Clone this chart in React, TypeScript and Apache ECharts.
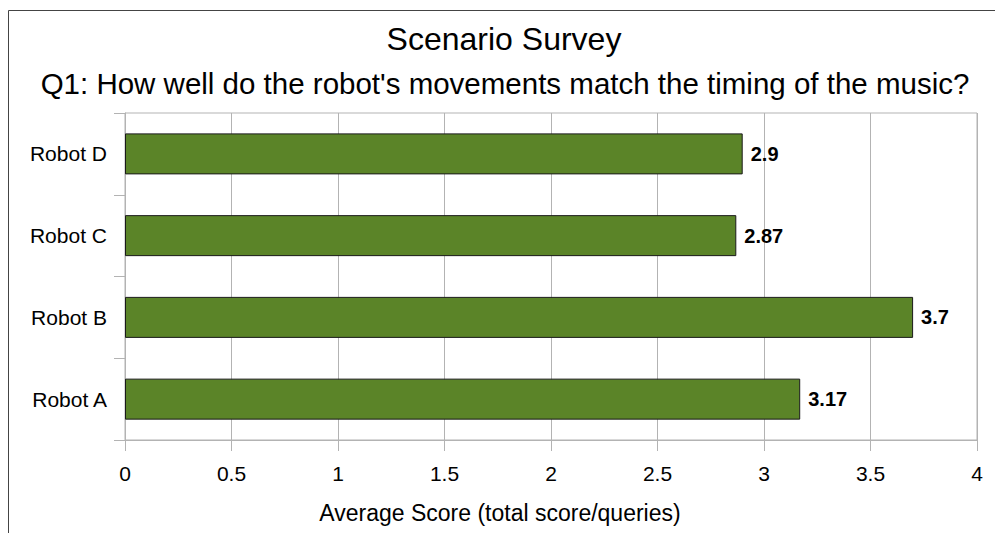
import React, { useEffect, useRef } from "react";
import * as echarts from "echarts";

const categories = ["Robot A", "Robot B", "Robot C", "Robot D"];
const scores = [3.17, 3.7, 2.87, 2.9];
const titleText = "Scenario Survey";
const subtitleText = "Q1: How well do the robot's movements match the timing of the music?";
const xAxisName = "Average Score (total score/queries)";

const FONT = "'Liberation Sans', Arial, sans-serif";

export default function App() {
  const ref = useRef<HTMLDivElement>(null);
  useEffect(() => {
    if (!ref.current) return;
    const chart = echarts.init(ref.current, null, { renderer: "svg" });
    chart.setOption({
      animation: false,
      backgroundColor: "#ffffff",
      textStyle: { fontFamily: FONT },
      grid: {
        left: 125,
        right: 18,
        top: 113,
        bottom: 93,
        show: true,
        borderColor: "#b3b3b3",
        borderWidth: 1,
        backgroundColor: "transparent",
      },
      graphic: [
        {
          type: "rect",
          shape: { x: 8.5, y: 10.5, width: 1100, height: 600 },
          style: { fill: "none", stroke: "#444444", lineWidth: 1 },
          silent: true,
          z: -1,
        },
        {
          type: "text",
          x: 504,
          y: 39,
          style: {
            text: titleText,
            font: `32px ${FONT}`,
            fill: "#000000",
            textAlign: "center",
            textVerticalAlign: "middle",
          },
        },
        {
          type: "text",
          x: 505,
          y: 83,
          style: {
            text: subtitleText,
            font: `29.5px ${FONT}`,
            fill: "#000000",
            textAlign: "center",
            textVerticalAlign: "middle",
          },
        },
        {
          type: "text",
          x: 500,
          y: 513,
          style: {
            text: xAxisName,
            font: `23px ${FONT}`,
            fill: "#000000",
            textAlign: "center",
            textVerticalAlign: "middle",
          },
        },
      ],
      xAxis: {
        type: "value",
        min: 0,
        max: 4,
        interval: 0.5,
        axisLine: { show: true, lineStyle: { color: "#b3b3b3" } },
        axisTick: { show: true, length: 11, lineStyle: { color: "#b3b3b3" } },
        axisLabel: { color: "#000000", fontSize: 21, margin: 23, fontFamily: FONT },
        splitLine: { show: true, lineStyle: { color: "#b3b3b3" } },
      },
      yAxis: {
        type: "category",
        data: categories,
        axisLine: { show: true, lineStyle: { color: "#b3b3b3" } },
        axisTick: { show: true, length: 11, lineStyle: { color: "#b3b3b3" } },
        axisLabel: { color: "#000000", fontSize: 21, margin: 18, fontFamily: FONT },
        splitLine: { show: false },
      },
      series: [
        {
          type: "bar",
          data: scores,
          barWidth: 41,
          itemStyle: { color: "#5b8428", borderColor: "#1a1a1a", borderWidth: 1 },
          label: {
            show: true,
            position: "right",
            distance: 8,
            color: "#000000",
            fontWeight: "bold",
            fontSize: 20,
            fontFamily: FONT,
          },
        },
      ],
    });
    return () => chart.dispose();
  }, []);
  return (
    <div
      ref={ref}
      style={{ position: "absolute", left: 0, top: 0, width: 995, height: 533 }}
    />
  );
}
